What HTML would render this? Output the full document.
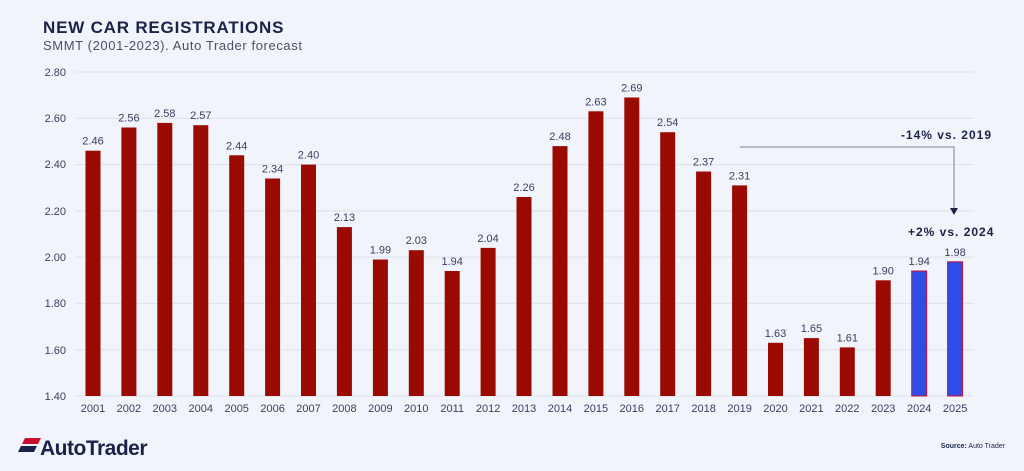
<!DOCTYPE html>
<html><head><style>
body{margin:0;background:#f1f4fb;}
svg{display:block;font-family:"Liberation Sans",sans-serif;}
</style></head><body>
<svg width="1024" height="471" viewBox="0 0 1024 471">
<rect width="1024" height="471" fill="#f1f4fb"/>
<text x="43" y="33" font-size="17" font-weight="bold" fill="#1a2347" letter-spacing="0.8">NEW CAR REGISTRATIONS</text>
<text x="43" y="50" font-size="13" fill="#4a5066" letter-spacing="0.6">SMMT (2001-2023). Auto Trader forecast</text>
<g stroke="#dde1ea" stroke-width="1">
<line x1="75" x2="974" y1="72" y2="72"/><line x1="75" x2="974" y1="118.3" y2="118.3"/>
<line x1="75" x2="974" y1="164.6" y2="164.6"/><line x1="75" x2="974" y1="210.9" y2="210.9"/>
<line x1="75" x2="974" y1="257.1" y2="257.1"/><line x1="75" x2="974" y1="303.4" y2="303.4"/>
<line x1="75" x2="974" y1="349.7" y2="349.7"/><line x1="75" x2="974" y1="396" y2="396"/>
</g>
<g font-size="11" fill="#3a4060" text-anchor="end">
<text x="66" y="76">2.80</text><text x="66" y="122">2.60</text><text x="66" y="168">2.40</text>
<text x="66" y="215">2.20</text><text x="66" y="261">2.00</text><text x="66" y="307">1.80</text>
<text x="66" y="354">1.60</text><text x="66" y="400">1.40</text>
</g>
<g fill="#9a0a00">
<rect x="85.5" y="150.7" width="15" height="245.3"/>
<rect x="121.4" y="127.5" width="15" height="268.5"/>
<rect x="157.3" y="122.9" width="15" height="273.1"/>
<rect x="193.3" y="125.2" width="15" height="270.8"/>
<rect x="229.2" y="155.3" width="15" height="240.7"/>
<rect x="265.1" y="178.5" width="15" height="217.5"/>
<rect x="301" y="164.6" width="15" height="231.4"/>
<rect x="336.9" y="227.1" width="15" height="168.9"/>
<rect x="372.9" y="259.5" width="15" height="136.5"/>
<rect x="408.8" y="250.2" width="15" height="145.8"/>
<rect x="444.7" y="271" width="15" height="125"/>
<rect x="480.6" y="247.9" width="15" height="148.1"/>
<rect x="516.5" y="197" width="15" height="199"/>
<rect x="552.5" y="146.1" width="15" height="249.9"/>
<rect x="588.4" y="111.3" width="15" height="284.7"/>
<rect x="624.3" y="97.5" width="15" height="298.5"/>
<rect x="660.2" y="132.2" width="15" height="263.8"/>
<rect x="696.1" y="171.5" width="15" height="224.5"/>
<rect x="732.1" y="185.4" width="15" height="210.6"/>
<rect x="768" y="342.8" width="15" height="53.2"/>
<rect x="803.9" y="338.1" width="15" height="57.9"/>
<rect x="839.8" y="347.4" width="15" height="48.6"/>
<rect x="875.7" y="280.3" width="15" height="115.7"/>
</g>
<g fill="#2f4be8" stroke="#c8102e" stroke-width="1">
<rect x="911.7" y="271" width="15" height="125"/>
<rect x="947.6" y="261.8" width="15" height="134.2"/>
</g>
<g font-size="11" fill="#3a4060" text-anchor="middle">
<text x="93" y="144.7">2.46</text><text x="128.9" y="121.5">2.56</text><text x="164.8" y="116.9">2.58</text>
<text x="200.8" y="119.2">2.57</text><text x="236.7" y="149.3">2.44</text><text x="272.6" y="172.5">2.34</text>
<text x="308.5" y="158.6">2.40</text><text x="344.4" y="221.1">2.13</text><text x="380.4" y="253.5">1.99</text>
<text x="416.3" y="244.2">2.03</text><text x="452.2" y="265">1.94</text><text x="488.1" y="241.9">2.04</text>
<text x="524" y="191">2.26</text><text x="560" y="140.1">2.48</text><text x="595.9" y="105.3">2.63</text>
<text x="631.8" y="91.5">2.69</text><text x="667.7" y="126.2">2.54</text><text x="703.6" y="165.5">2.37</text>
<text x="739.6" y="179.4">2.31</text><text x="775.5" y="336.8">1.63</text><text x="811.4" y="332.1">1.65</text>
<text x="847.3" y="341.4">1.61</text><text x="883.2" y="274.3">1.90</text><text x="919.2" y="265">1.94</text>
<text x="955.1" y="255.8">1.98</text>
</g>
<g font-size="11" fill="#3a4060" text-anchor="middle">
<text x="93" y="412">2001</text><text x="128.9" y="412">2002</text><text x="164.8" y="412">2003</text>
<text x="200.8" y="412">2004</text><text x="236.7" y="412">2005</text><text x="272.6" y="412">2006</text>
<text x="308.5" y="412">2007</text><text x="344.4" y="412">2008</text><text x="380.4" y="412">2009</text>
<text x="416.3" y="412">2010</text><text x="452.2" y="412">2011</text><text x="488.1" y="412">2012</text>
<text x="524" y="412">2013</text><text x="560" y="412">2014</text><text x="595.9" y="412">2015</text>
<text x="631.8" y="412">2016</text><text x="667.7" y="412">2017</text><text x="703.6" y="412">2018</text>
<text x="739.6" y="412">2019</text><text x="775.5" y="412">2020</text><text x="811.4" y="412">2021</text>
<text x="847.3" y="412">2022</text><text x="883.2" y="412">2023</text><text x="919.2" y="412">2024</text>
<text x="955.1" y="412">2025</text>
</g>
<g stroke="#7a8196" fill="none" stroke-width="1"><polyline points="740,147 954,147 954,210"/></g>
<polygon points="950,208 958,208 954,215" fill="#1a2347"/>
<text x="992" y="139" font-size="12" font-weight="bold" fill="#1a2347" text-anchor="end" letter-spacing="1">-14% vs. 2019</text>
<text x="908" y="236" font-size="12" font-weight="bold" fill="#1a2347" letter-spacing="1">+2% vs. 2024</text>
<g transform="translate(18,438)">
<polygon points="7,0 23,0 20,6 4,6" fill="#c8102e"/>
<polygon points="3,8 19,8 16,14 0,14" fill="#1a2347"/>
</g>
<text x="40" y="455" font-size="21" font-weight="bold" fill="#1a2347" letter-spacing="-0.5">AutoTrader</text>
<text x="1005" y="448" font-size="7" fill="#1a2347" text-anchor="end"><tspan font-weight="bold">Source:</tspan> Auto Trader</text>
</svg>
</body></html>
